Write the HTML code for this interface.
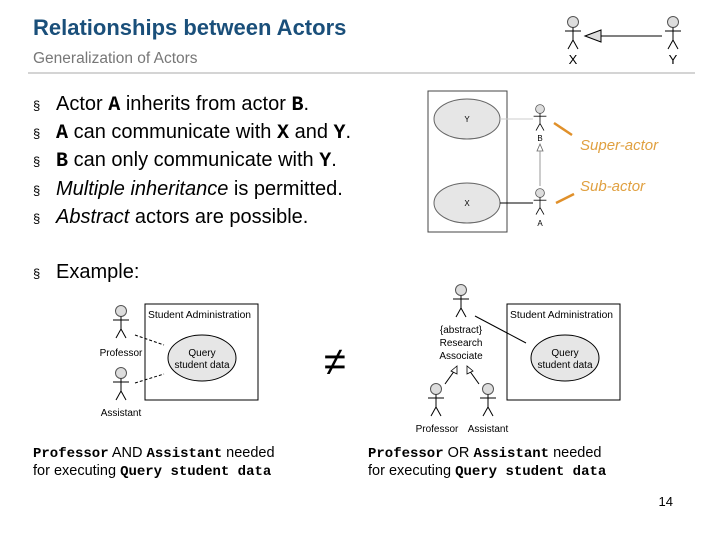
<!DOCTYPE html>
<html><head><meta charset="utf-8"><style>
html,body{margin:0;padding:0;background:#fff;}
svg{display:block;font-family:"Liberation Sans",sans-serif;}
.m{font-family:"Liberation Mono",monospace;font-weight:bold;}
</style></head><body>
<svg width="720" height="540" viewBox="0 0 720 540" xmlns="http://www.w3.org/2000/svg">
<defs>
<g id="act" stroke="#000" stroke-width="1" fill="none">
<circle cx="0" cy="0" r="5.5" fill="#ddd" stroke="#555"/>
<line x1="0" y1="5.5" x2="0" y2="18"/>
<line x1="-8" y1="9" x2="8" y2="9"/>
<line x1="0" y1="18" x2="-5" y2="27"/>
<line x1="0" y1="18" x2="5" y2="27"/>
</g>
</defs>
<text x="33" y="35" font-size="22" font-weight="bold" fill="#1a4f7a">Relationships between Actors</text>
<text x="33" y="63" font-size="15.5" fill="#777">Generalization of Actors</text>
<line x1="28" y1="73" x2="695" y2="73" stroke="#aaa" stroke-width="1"/>
<!-- top right -->
<use href="#act" x="573" y="22"/>
<use href="#act" x="673" y="22"/>
<polygon points="585,36 601,30 601,42" fill="#ddd" stroke="#000"/>
<line x1="601" y1="36" x2="662" y2="36" stroke="#000"/>
<text x="573" y="64" font-size="13" text-anchor="middle">X</text>
<text x="673" y="64" font-size="13" text-anchor="middle">Y</text>
<!-- bullets -->
<g font-size="20" fill="#000">
<text x="33" y="110" font-size="13">§</text><text x="56" y="110">Actor <tspan class="m">A</tspan> inherits from actor <tspan class="m">B</tspan>.</text>
<text x="33" y="138" font-size="13">§</text><text x="56" y="138"><tspan class="m">A</tspan> can communicate with <tspan class="m">X</tspan> and <tspan class="m">Y</tspan>.</text>
<text x="33" y="166" font-size="13">§</text><text x="56" y="166"><tspan class="m">B</tspan> can only communicate with <tspan class="m">Y</tspan>.</text>
<text x="33" y="195" font-size="13">§</text><text x="56" y="195"><tspan font-style="italic">Multiple inheritance</tspan> is permitted.</text>
<text x="33" y="223" font-size="13">§</text><text x="56" y="223"><tspan font-style="italic">Abstract</tspan> actors are possible.</text>
<text x="33" y="278" font-size="13">§</text><text x="56" y="278">Example:</text>
</g>
<!-- small diagram -->
<rect x="428" y="91" width="79" height="141" fill="none" stroke="#444"/>
<ellipse cx="467" cy="119" rx="33" ry="20" fill="#e6e6e6" stroke="#666"/>
<ellipse cx="467" cy="203" rx="33" ry="20" fill="#e6e6e6" stroke="#666"/>
<text x="467" y="122" font-size="8" text-anchor="middle">Y</text>
<text x="467" y="206" font-size="8" text-anchor="middle">X</text>
<line x1="500" y1="119" x2="533" y2="119" stroke="#ccc"/>
<line x1="500" y1="203" x2="533" y2="203" stroke="#000"/>
<g transform="translate(540,109) scale(0.8)"><use href="#act"/></g>
<g transform="translate(540,193) scale(0.8)"><use href="#act"/></g>
<text x="540" y="141" font-size="8" text-anchor="middle">B</text>
<text x="540" y="226" font-size="8" text-anchor="middle">A</text>
<polygon points="540,144 537,151 543,151" fill="#fff" stroke="#666" stroke-width="0.8"/>
<line x1="540" y1="151" x2="540" y2="186" stroke="#999"/>
<line x1="554" y1="123" x2="572" y2="135" stroke="#e0902a" stroke-width="2.5"/>
<line x1="556" y1="203" x2="574" y2="194" stroke="#e0902a" stroke-width="2.5"/>
<text x="580" y="150" font-size="15" font-style="italic" fill="#e0a040">Super-actor</text>
<text x="580" y="191" font-size="15" font-style="italic" fill="#e0a040">Sub-actor</text>
<!-- left example -->
<rect x="145" y="304" width="113" height="96" fill="none" stroke="#000"/>
<text x="148" y="318" font-size="10.3">Student Administration</text>
<ellipse cx="202" cy="358" rx="34" ry="23" fill="#e6e6e6" stroke="#000"/>
<text x="202" y="356" font-size="10" text-anchor="middle">Query</text>
<text x="202" y="368" font-size="10" text-anchor="middle">student data</text>
<g transform="translate(121,311)"><use href="#act"/></g>
<g transform="translate(121,373)"><use href="#act"/></g>
<text x="121" y="356" font-size="10" text-anchor="middle">Professor</text>
<text x="121" y="416" font-size="10" text-anchor="middle">Assistant</text>
<line x1="135" y1="335" x2="164" y2="345" stroke="#000" stroke-dasharray="3,2"/>
<line x1="135" y1="383" x2="164" y2="374" stroke="#000" stroke-dasharray="3,2"/>
<!-- not equal -->
<text x="335" y="375" font-size="40" text-anchor="middle" fill="#000">≠</text>
<!-- right example -->
<rect x="507" y="304" width="113" height="96" fill="none" stroke="#000"/>
<text x="510" y="318" font-size="10.3">Student Administration</text>
<ellipse cx="565" cy="358" rx="34" ry="23" fill="#e6e6e6" stroke="#000"/>
<text x="565" y="356" font-size="10" text-anchor="middle">Query</text>
<text x="565" y="368" font-size="10" text-anchor="middle">student data</text>
<g transform="translate(461,290)"><use href="#act"/></g>
<text x="461" y="333" font-size="10" text-anchor="middle">{abstract}</text>
<text x="461" y="346" font-size="10" text-anchor="middle">Research</text>
<text x="461" y="359" font-size="10" text-anchor="middle">Associate</text>
<line x1="475" y1="316" x2="526" y2="343" stroke="#000"/>
<g transform="translate(436,389)"><use href="#act"/></g>
<g transform="translate(488,389)"><use href="#act"/></g>
<line x1="445" y1="384" x2="455" y2="370" stroke="#000"/>
<polygon points="457,366 451,371 457,374" fill="#fff" stroke="#000" stroke-width="0.8"/>
<line x1="479" y1="384" x2="469" y2="370" stroke="#000"/>
<polygon points="467,366 467,374 473,371" fill="#fff" stroke="#000" stroke-width="0.8"/>
<text x="437" y="432" font-size="10" text-anchor="middle">Professor</text>
<text x="488" y="432" font-size="10" text-anchor="middle">Assistant</text>
<!-- captions -->
<g font-size="14.5">
<text x="33" y="457"><tspan class="m" font-size="14">Professor</tspan> AND <tspan class="m" font-size="14">Assistant</tspan> needed</text>
<text x="33" y="475">for executing <tspan class="m" font-size="14">Query student data</tspan></text>
<text x="368" y="457"><tspan class="m" font-size="14">Professor</tspan> OR <tspan class="m" font-size="14">Assistant</tspan> needed</text>
<text x="368" y="475">for executing <tspan class="m" font-size="14">Query student data</tspan></text>
</g>
<text x="673" y="506" font-size="13" text-anchor="end">14</text>
</svg>
</body></html>
